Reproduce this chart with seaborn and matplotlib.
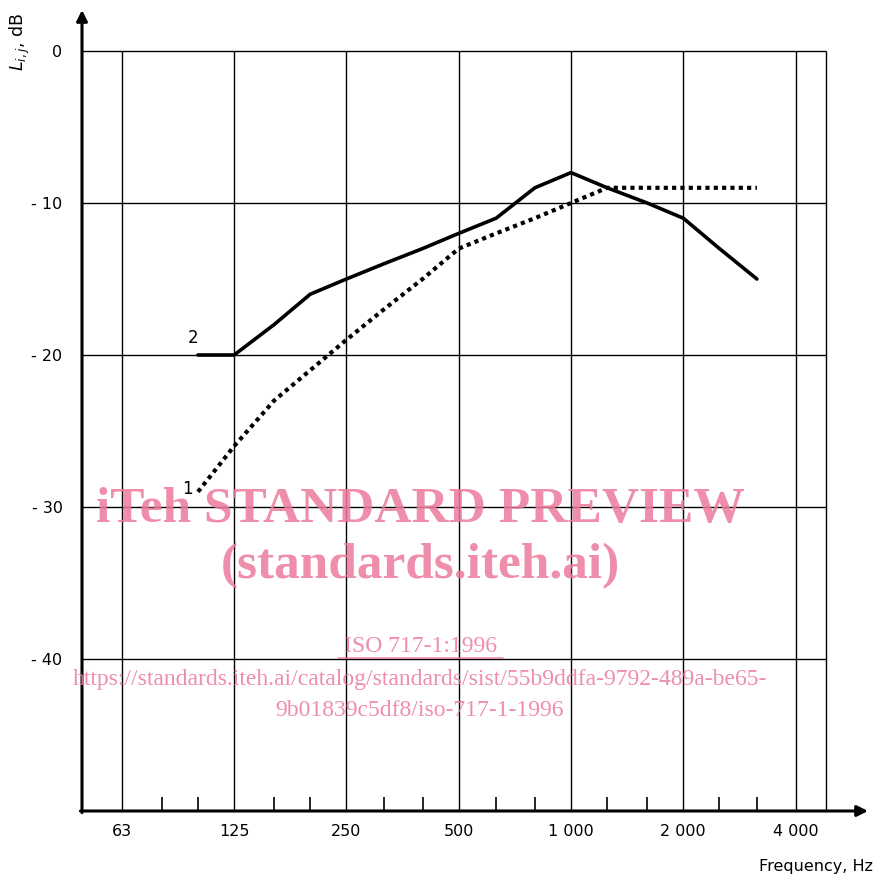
import numpy as np
import pandas as pd
import matplotlib
matplotlib.use("Agg")
import matplotlib.pyplot as plt
import seaborn as sns

# One-third-octave band centre frequencies, Hz
band_freqs = [100, 125, 160, 200, 250, 315, 400, 500, 630, 800,
              1000, 1250, 1600, 2000, 2500, 3150]
# Spectrum No. 1 and No. 2 sound levels, dB
spectrum_1 = [-29, -26, -23, -21, -19, -17, -15, -13, -12, -11,
              -10, -9, -9, -9, -9, -9]
spectrum_2 = [-20, -20, -18, -16, -15, -14, -13, -12, -11, -9,
              -8, -9, -10, -11, -13, -15]

octave_labels = ["63", "125", "250", "500", "1 000", "2 000", "4 000"]
octave_freqs = [62.5, 125, 250, 500, 1000, 2000, 4000]
third_octave_ticks = [80, 100, 160, 200, 315, 400, 630, 800,
                      1250, 1600, 2500, 3150]
level_ticks = [0, -10, -20, -30, -40]
level_labels = ["0", "- 10", "- 20", "- 30", "- 40"]

df = pd.DataFrame({
    "freq": band_freqs * 2,
    "level": spectrum_1 + spectrum_2,
    "spectrum": ["1"] * len(band_freqs) + ["2"] * len(band_freqs),
})

sns.set_style("white")
plt.rcParams["font.family"] = ["DejaVu Sans"]
plt.rcParams["text.color"] = "black"
plt.rcParams["xtick.color"] = "black"
plt.rcParams["ytick.color"] = "black"

W, H = 877, 881
fig = plt.figure(figsize=(W / 100, H / 100), dpi=100)

# axes frame in pixels
x0, x1 = 82, 868
y_bot, y_top = 811, 10
ax = fig.add_axes([x0 / W, 1 - y_bot / H, (x1 - x0) / W, (y_bot - y_top) / H])

octave_px = 112.3
x_1k = 571


def f_at(px):
    return 1000 * 2 ** ((px - x_1k) / octave_px)


px_per_db = 15.2
ax.set_xscale("log", base=2)
ax.set_xlim(f_at(x0), f_at(x1))
ax.set_ylim(-50, (811 - 10) / px_per_db - 50)

right_border = f_at(826)

# grid
ax.hlines(level_ticks, f_at(x0), right_border, color="black", lw=1.0, zorder=1)
ax.vlines(octave_freqs + [right_border], -50, 0, color="black", lw=1.0, zorder=1)

# spectra
sns.lineplot(data=df[df.spectrum == "2"], x="freq", y="level", ax=ax,
             color="black", lw=2.6, legend=False, zorder=3)
sns.lineplot(data=df[df.spectrum == "1"], x="freq", y="level", ax=ax,
             color="black", lw=3.0, legend=False, zorder=3)
ax.lines[-1].set_linestyle((0, (1.0, 1.0)))

ax.text(band_freqs[0] * 0.97, spectrum_2[0] + 0.5, "2", fontsize=12,
        ha="center", va="bottom", color="black")
ax.text(band_freqs[0] * 0.94, spectrum_1[0] - 0.4, "1", fontsize=12,
        ha="center", va="bottom", color="black")

# axes and ticks
for s in ax.spines.values():
    s.set_visible(False)
ax.annotate("", xy=(0, 1), xytext=(0, -0.002), xycoords="axes fraction",
            arrowprops=dict(arrowstyle="-|>", lw=2.2, color="black",
                            mutation_scale=16, shrinkA=0, shrinkB=0))
ax.annotate("", xy=(1, 0), xytext=(-0.002, 0), xycoords="axes fraction",
            arrowprops=dict(arrowstyle="-|>", lw=2.2, color="black",
                            mutation_scale=16, shrinkA=0, shrinkB=0))

ax.set_xticks(octave_freqs)
ax.set_xticklabels(octave_labels, fontsize=11.5)
ax.set_xticks(third_octave_ticks, minor=True)
ax.xaxis.set_minor_formatter(matplotlib.ticker.NullFormatter())
ax.tick_params(axis="x", which="major", length=0, pad=9, labelcolor="black")
ax.tick_params(axis="x", which="minor", direction="in", length=10,
               width=1.2, color="black", bottom=True)
ax.set_yticks(level_ticks)
ax.set_yticklabels(level_labels, fontsize=11.5)
ax.tick_params(axis="y", length=0, pad=14, labelcolor="black")
ax.set_xlabel("")
ax.set_ylabel("")

fig.text(20 / W, 1 - 42 / H, r"$L_{i,j}$, dB", rotation=90, fontsize=12.5,
         ha="center", va="center", color="black")
fig.text(873 / W, 1 - 866 / H, "Frequency, Hz", fontsize=11.5,
         ha="right", va="center", color="black")

# watermark
pink = "#ec7a9c"
fig.text(420 / W, 1 - 510 / H, "iTeh STANDARD PREVIEW", family="Liberation Serif",
         weight="bold", fontsize=37, color=pink, alpha=0.85, ha="center", va="center",
         zorder=10)
fig.text(420 / W, 1 - 566 / H, "(standards.iteh.ai)", family="Liberation Serif",
         weight="bold", fontsize=37, color=pink, alpha=0.85, ha="center", va="center",
         zorder=10)
fig.text(420 / W, 1 - 647 / H, "ISO 717-1:1996", family="Liberation Serif",
         fontsize=17, color=pink, alpha=0.85, ha="center", va="center", zorder=10)
fig.text(420 / W, 1 - 680 / H,
         "https://standards.iteh.ai/catalog/standards/sist/55b9ddfa-9792-489a-be65-",
         family="Liberation Serif", fontsize=17, color=pink, alpha=0.85,
         ha="center", va="center", zorder=10)
fig.text(420 / W, 1 - 710 / H, "9b01839c5df8/iso-717-1-1996",
         family="Liberation Serif", fontsize=17, color=pink, alpha=0.85,
         ha="center", va="center", zorder=10)
fig.lines.append(matplotlib.lines.Line2D([338 / W, 503 / W], [1 - 658 / H, 1 - 658 / H],
                                         transform=fig.transFigure, color=pink,
                                         alpha=0.85, lw=1.2))

fig.savefig("out.png", dpi=100)
